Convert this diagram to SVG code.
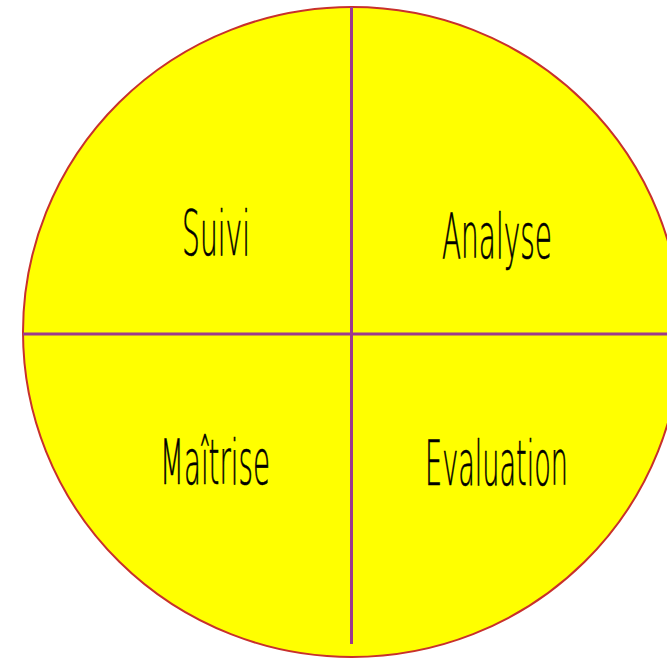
<svg xmlns="http://www.w3.org/2000/svg" width="667" height="658" viewBox="0 0 667 658">
<style>
.lbl{font-family:"DejaVu Sans","Liberation Sans",sans-serif;font-weight:200;font-size:50px;fill:#000;stroke:#000;stroke-width:0.5;text-anchor:middle}
.div{stroke:#9c3a8c;stroke-width:3;fill:none}
</style>
<rect width="667" height="658" fill="#ffffff"/>
<g id="circle">
<ellipse cx="352" cy="332" rx="329" ry="325" fill="#ffff00" stroke="#c8302c" stroke-width="2"/>
</g>
<g id="connectors">
<line class="div" x1="351.5" y1="7" x2="351.5" y2="644"/>
<line class="div" x1="23" y1="334" x2="667" y2="334"/>
</g>
<g id="suivi" transform="translate(216,255) scale(1.24)"><text class="lbl" x="0" y="0" textLength="54.8" lengthAdjust="spacingAndGlyphs">Suivi</text></g>
<g id="analyse" transform="translate(497,258) scale(1.24)"><text class="lbl" x="0" y="0" textLength="88.7" lengthAdjust="spacingAndGlyphs">Analyse</text></g>
<g id="maitrise" transform="translate(215,484) scale(1.24)"><text class="lbl" x="0" y="0" textLength="88.7" lengthAdjust="spacingAndGlyphs">Maîtrise</text></g>
<g id="evaluation" transform="translate(496.5,485) scale(1.24)"><text class="lbl" x="0" y="0" textLength="115.3" lengthAdjust="spacingAndGlyphs">Evaluation</text></g>
</svg>
